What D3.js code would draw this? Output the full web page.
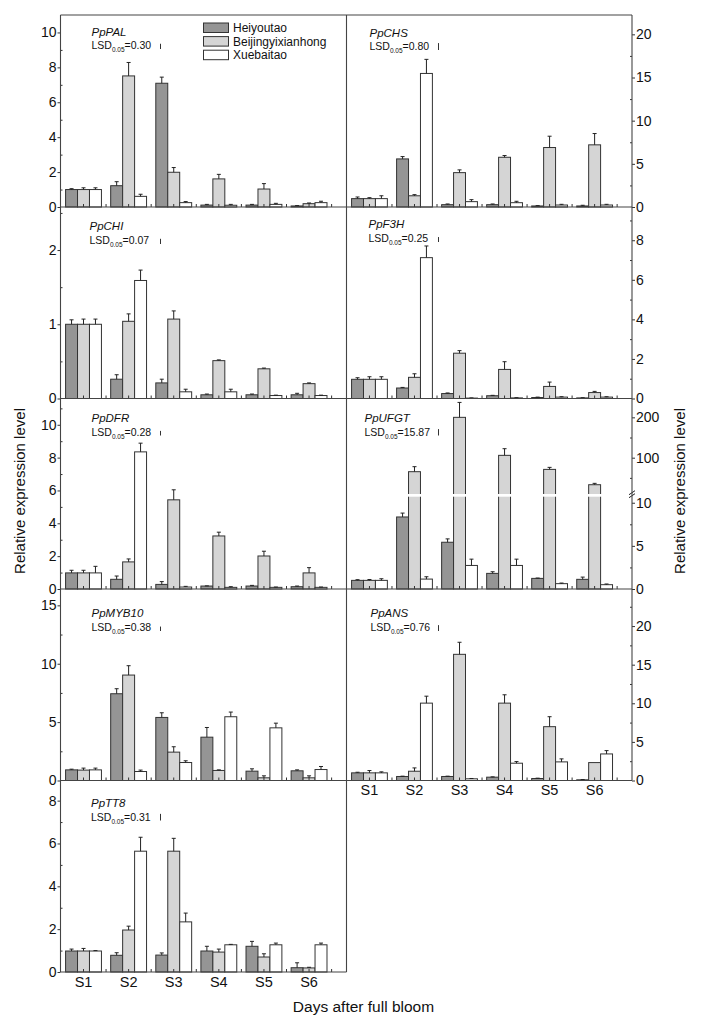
<!DOCTYPE html>
<html><head><meta charset="utf-8">
<script src="https://cdn.jsdelivr.net/npm/d3@7"></script>
<style>
body{margin:0;background:#fff}
svg{display:block}
text{font-family:"Liberation Sans",Arial,Helvetica,sans-serif;fill:#111}
</style>
</head><body>
<svg id="c" width="703" height="1023"></svg>
<script>
// ---------------- DATA ----------------
const stages = ["S1","S2","S3","S4","S5","S6"];
const cultivars = ["Heiyoutao","Beijingyixianhong","Xuebaitao"];
const genes = ["PpPAL","PpCHS","PpCHI","PpF3H","PpDFR","PpUFGT","PpMYB10","PpANS","PpTT8"];
const lsdValues = [0.30, 0.80, 0.07, 0.25, 0.28, 15.87, 0.38, 0.76, 0.31];
const lsdLabels = ["0.30","0.80","0.07","0.25","0.28","15.87","0.38","0.76","0.31"];

// means per stage: [Heiyoutao, Beijingyixianhong, Xuebaitao]
const palMean = [[1.00,1.00,1.00],[1.22,7.51,0.61],[7.09,1.99,0.25],[0.11,1.61,0.10],[0.11,1.03,0.15],[0.06,0.19,0.25]];
const palErr  = [[0.05,0.10,0.10],[0.23,0.77,0.12],[0.35,0.27,0.06],[0.04,0.26,0.05],[0.04,0.31,0.06],[0.02,0.04,0.08]];
const chsMean = [[0.97,0.97,0.97],[5.57,1.30,15.47],[0.27,3.98,0.62],[0.27,5.76,0.50],[0.12,6.89,0.23],[0.12,7.20,0.23]];
const chsErr  = [[0.19,0.11,0.33],[0.27,0.13,1.63],[0.08,0.32,0.23],[0.08,0.20,0.16],[0.04,1.31,0.08],[0.08,1.31,0.08]];
const chiMean = [[1.00,1.00,1.00],[0.26,1.04,1.59],[0.21,1.07,0.09],[0.05,0.51,0.09],[0.05,0.40,0.04],[0.05,0.20,0.04]];
const chiErr  = [[0.06,0.07,0.07],[0.06,0.10,0.14],[0.05,0.11,0.035],[0.01,0.01,0.035],[0.01,0.01,0.005],[0.02,0.01,0.005]];
const f3hMean = [[0.97,0.97,0.97],[0.53,1.07,7.12],[0.25,2.29,0.02],[0.14,1.47,0.03],[0.05,0.61,0.07],[0.03,0.30,0.07]];
const f3hErr  = [[0.08,0.13,0.13],[0.03,0.18,0.59],[0.03,0.13,0.01],[0.02,0.39,0.01],[0.02,0.22,0.02],[0.01,0.06,0.02]];
const dfrMean = [[0.98,0.98,0.98],[0.59,1.65,8.35],[0.28,5.43,0.12],[0.18,3.23,0.10],[0.18,2.01,0.10],[0.14,0.98,0.10]];
const dfrErr  = [[0.16,0.16,0.40],[0.20,0.18,0.53],[0.17,0.61,0.04],[0.01,0.23,0.04],[0.04,0.29,0.02],[0.04,0.32,0.02]];
const ufgtMean = [[1.00,1.00,1.00],[8.35,65.3,1.15],[5.42,200,2.73],[1.81,105.8,2.73],[1.23,71,0.62],[1.12,33,0.50]];
const ufgtErr  = [[0.08,0.10,0.19],[0.45,12.4,0.27],[0.39,37,0.73],[0.19,16.5,0.73],[0.04,5,0.07],[0.26,3.4,0.08]];
const myb10Mean = [[0.91,0.89,0.91],[7.43,9.03,0.77],[5.40,2.43,1.54],[3.71,0.86,5.46],[0.80,0.23,4.51],[0.83,0.23,0.94]];
const myb10Err  = [[0.06,0.17,0.15],[0.43,0.80,0.12],[0.40,0.46,0.15],[0.83,0.05,0.40],[0.20,0.17,0.40],[0.08,0.17,0.26]];
const ansMean = [[0.99,0.99,0.99],[0.52,1.20,10.02],[0.52,16.34,0.22],[0.43,10.02,2.24],[0.26,6.97,2.41],[0.09,2.32,3.44]];
const ansErr  = [[0.08,0.30,0.13],[0.04,0.43,0.90],[0.04,1.56,0.04],[0.04,1.08,0.21],[0.04,1.29,0.39],[0.03,0.00,0.43]];
const tt8Mean = [[0.98,0.98,0.98],[0.78,1.96,5.64],[0.79,5.64,2.34],[0.98,0.93,1.27],[1.20,0.70,1.27],[0.20,0.19,1.27]];
const tt8Err  = [[0.09,0.12,0.02],[0.12,0.18,0.65],[0.10,0.60,0.41],[0.22,0.14,0.02],[0.23,0.15,0.08],[0.23,0.03,0.08]];

// y-axis ticks
const ticksPAL = [0,2,4,6,8,10],   minorPAL = [1,3,5,7,9];
const ticksCHS = [0,5,10,15,20],   minorCHS = [2.5,7.5,12.5,17.5];
const ticksCHI = [0,1,2],          minorCHI = [0.5,1.5,2.5];
const ticksF3H = [0,2,4,6,8],      minorF3H = [1,3,5,7,9];
const ticksDFR = [0,2,4,6,8,10],   minorDFR = [1,3,5,7,9,11];
const ticksUFGTlow = [0,5,10],     minorUFGTlow = [2.5,7.5];
const ticksUFGThigh = [100,200],   minorUFGThigh = [50,150];
const ticksMYB10 = [0,5,10,15],    minorMYB10 = [2.5,7.5,12.5];
const ticksANS = [0,5,10,15,20],   minorANS = [2.5,7.5,12.5,17.5,22.5];
const ticksTT8 = [0,2,4,6,8],      minorTT8 = [1,3,5,7];

// ---------------- LAYOUT ----------------
const colX = [[60.5, 346.5], [346.5, 632]];
const rowY = [15, 207, 398.5, 589, 780.5, 972];
const fills = ["#959595", "#d5d5d5", "#ffffff"];
const font = 14;

const panels = [
  {mean: palMean,  err: palErr,  col:0,row:0, ymax:11.0,  ticks:ticksPAL, minor:minorPAL, gx:31, gy:21, ly:34, bx:100},
  {mean: chsMean,  err: chsErr,  col:1,row:0, ymax:22.24, ticks:ticksCHS, minor:minorCHS, gx:23, gy:22, ly:35, bx:92},
  {mean: chiMean,  err: chiErr,  col:0,row:1, ymax:2.58,  ticks:ticksCHI, minor:minorCHI, gx:29, gy:23, ly:37, bx:100},
  {mean: f3hMean,  err: f3hErr,  col:1,row:1, ymax:9.68,  ticks:ticksF3H, minor:minorF3H, gx:22, gy:21, ly:35, bx:92},
  {mean: dfrMean,  err: dfrErr,  col:0,row:2, ymax:11.6,  ticks:ticksDFR, minor:minorDFR, gx:31, gy:23, ly:37, bx:100},
  {mean: ufgtMean, err: ufgtErr, col:1,row:2, broken:true, gx:18, gy:23, ly:37, bx:92},
  {mean: myb10Mean,err: myb10Err,col:0,row:3, ymax:16.4,  ticks:ticksMYB10, minor:minorMYB10, gx:31, gy:28, ly:42, bx:100},
  {mean: ansMean,  err: ansErr,  col:1,row:3, ymax:24.8,  ticks:ticksANS, minor:minorANS, gx:24, gy:28, ly:42, bx:92},
  {mean: tt8Mean,  err: tt8Err,  col:0,row:4, ymax:8.94,  ticks:ticksTT8, minor:minorTT8, gx:30.5, gy:26, ly:40, bx:100},
];

const svg = d3.select("#c");

panels.forEach((p, pi) => {
  const [x0, x1] = colX[p.col];
  const yTop = rowY[p.row], yBot = rowY[p.row + 1];
  const x = d3.scaleLinear().domain([0.49, 6.83]).range([x0, x1]);
  const unit = x(1) - x(0);
  const inner = d3.scaleBand().domain(cultivars).range([-0.3975 * unit, 0.3975 * unit]).padding(0);
  const g = svg.append("g");

  let y, yLow, yHigh, gapTop, gapBot;
  if (!p.broken) {
    y = d3.scaleLinear().domain([0, p.ymax]).range([yBot, yTop]);
  } else {
    gapBot = yBot - 92.3;
    gapTop = gapBot - 2.7;
    yLow = d3.scaleLinear().domain([0, 10.7]).range([yBot, gapBot]);
    yHigh = d3.scaleLinear().domain([10, 246.7]).range([gapTop, yTop]);
    y = v => v <= 10.7 ? yLow(v) : yHigh(v);
  }

  // bars
  stages.forEach((s, si) => {
    cultivars.forEach((c, ci) => {
      const v = p.mean[si][ci], e = p.err[si][ci];
      const bx = x(si + 1) + inner(c);
      const bw = inner.bandwidth();
      g.append("rect")
        .attr("x", bx).attr("width", bw)
        .attr("y", y(v)).attr("height", y(0) - y(v))
        .attr("fill", fills[ci]).attr("stroke", "#333").attr("stroke-width", 1);
      if (e > 0) {
        const cx = bx + bw / 2;
        g.append("line").attr("x1", cx).attr("x2", cx)
          .attr("y1", y(v)).attr("y2", y(v + e))
          .attr("stroke", "#222").attr("stroke-width", 1);
        g.append("line").attr("x1", cx - 2).attr("x2", cx + 2)
          .attr("y1", y(v + e)).attr("y2", y(v + e))
          .attr("stroke", "#222").attr("stroke-width", 1);
      }
    });
  });

  if (p.broken) {
    g.append("rect").attr("x", x0 + 1).attr("width", x1 - x0 - 2)
      .attr("y", gapTop).attr("height", gapBot - gapTop).attr("fill", "#fff");
  }

  // x ticks (inside)
  const xt = d3.range(1, 7).concat(d3.range(1.5, 7, 1));
  g.selectAll(null).data(xt).enter().append("line")
    .attr("x1", d => x(d)).attr("x2", d => x(d))
    .attr("y1", yBot).attr("y2", yBot - 3)
    .attr("stroke", "#333").attr("stroke-width", 1);

  // y axis
  const isLeft = p.col === 0;
  const axX = isLeft ? x0 : x1;
  const mk = (scale, tv, mv) => {
    const a = (isLeft ? d3.axisLeft(scale) : d3.axisRight(scale))
      .tickValues(tv).tickSize(3).tickPadding(1).tickFormat(d3.format("d"));
    const ag = g.append("g").attr("transform", `translate(${axX},0)`).call(a);
    ag.select(".domain").remove();
    ag.selectAll("text").attr("font-size", font).attr("fill", "#111")
      .style("font-family", '"Liberation Sans",Arial,sans-serif');
    ag.selectAll("line").attr("stroke", "#333");
    const m = (isLeft ? d3.axisLeft(scale) : d3.axisRight(scale))
      .tickValues(mv).tickSize(-2).tickFormat("");
    const mg = g.append("g").attr("transform", `translate(${axX},0)`).call(m);
    mg.select(".domain").remove();
    mg.selectAll("line").attr("stroke", "#333");
  };
  if (!p.broken) mk(y, p.ticks, p.minor);
  else {
    mk(yLow, ticksUFGTlow, minorUFGTlow);
    mk(yHigh, ticksUFGThigh, minorUFGThigh);
    [0, 3].forEach(d => {
      g.append("line").attr("x1", axX - 3).attr("x2", axX + 3)
        .attr("y1", gapBot + 1 - d).attr("y2", gapBot - 3 - d)
        .attr("stroke", "#222").attr("stroke-width", 1);
    });
  }

  // x labels for bottom panels
  if (p.row === 4 || (p.col === 1 && p.row === 3)) {
    g.selectAll(null).data(stages).enter().append("text")
      .attr("x", (d, i) => x(i + 1)).attr("y", yBot + 14.5)
      .attr("text-anchor", "middle").attr("font-size", 14.5).text(d => d);
  }

  // gene label + LSD
  const lx = x0 + p.gx;
  g.append("text").attr("x", lx).attr("y", yTop + p.gy)
    .attr("font-size", 11.5).attr("font-style", "italic").text(genes[pi]);
  const t = g.append("text").attr("x", lx).attr("y", yTop + p.ly).attr("font-size", 10.5);
  t.append("tspan").text("LSD");
  t.append("tspan").attr("font-size", 6.5).attr("dy", 3).text("0.05");
  t.append("tspan").attr("dy", -3).text("=" + lsdLabels[pi]);
  const bxL = x0 + p.bx;
  const sc = p.broken ? yHigh : y;
  const base = p.broken ? 10 : 0;
  const len = Math.abs(sc(base) - sc(lsdValues[pi] + base));
  const by = yTop + p.ly;
  g.append("line").attr("x1", bxL).attr("x2", bxL)
    .attr("y1", by).attr("y2", by - len).attr("stroke", "#333").attr("stroke-width", 1);
});

// legend in PAL panel
const leg = svg.append("g");
cultivars.forEach((c, i) => {
  const yy = 23 + i * 13.6;
  leg.append("rect").attr("x", 203.5).attr("y", yy).attr("width", 25).attr("height", 9.5)
    .attr("fill", fills[i]).attr("stroke", "#333").attr("stroke-width", 1);
  leg.append("text").attr("x", 233).attr("y", yy + 9).attr("font-size", 12).text(c);
});

// frames
const fr = svg.append("g").attr("stroke", "#444").attr("stroke-width", 1.1).attr("fill", "none");
const line = (a, b, c, d) => fr.append("line").attr("x1", a).attr("y1", b).attr("x2", c).attr("y2", d);
line(colX[0][0], rowY[0], colX[1][1], rowY[0]);
line(colX[0][0], rowY[0], colX[0][0], rowY[5]);
line(colX[0][1], rowY[0], colX[0][1], rowY[5]);
line(colX[1][1], rowY[0], colX[1][1], rowY[4]);
for (let r = 1; r <= 4; r++) line(colX[0][0], rowY[r], colX[1][1], rowY[r]);
line(colX[0][0], rowY[5], colX[0][1], rowY[5]);

// axis titles
svg.append("text").attr("transform", "translate(24.5,491) rotate(-90)")
  .attr("text-anchor", "middle").attr("font-size", 15).text("Relative expression level");
svg.append("text").attr("transform", "translate(685,491) rotate(-90)")
  .attr("text-anchor", "middle").attr("font-size", 15).text("Relative expression level");
svg.append("text").attr("x", 363.5).attr("y", 1012)
  .attr("text-anchor", "middle").attr("font-size", 15.5).text("Days after full bloom");
</script>
</body></html>
